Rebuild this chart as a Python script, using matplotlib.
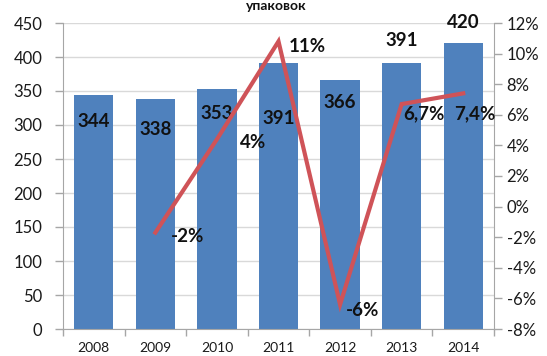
import matplotlib
matplotlib.use("Agg")
import matplotlib.pyplot as plt
from matplotlib.ticker import FuncFormatter, MultipleLocator, FixedLocator
import numpy as np

plt.rcParams['font.family'] = ['Lato', 'Noto Sans', 'DejaVu Sans']

# Data
years = ['2008', '2009', '2010', '2011', '2012', '2013', '2014']
volume = [344, 338, 353, 391, 366, 391, 420]
growth_years = ['2009', '2010', '2011', '2012', '2013', '2014']
growth = [-1.7, 4.4, 10.8, -6.4, 6.7, 7.4]
growth_decimals = [0, 0, 0, 0, 1, 1]

bar_color = '#4F81BD'
line_color = '#CF5358'
spine_color = '#A6A6A6'
grid_color = '#D9D9D9'

fig = plt.figure(figsize=(5.47, 3.56), dpi=100)
ax = fig.add_axes([63 / 547, 1 - 329 / 356, (494 - 63) / 547, (329 - 23) / 356])

x = np.arange(len(years))
ax.bar(x, volume, width=0.64, color=bar_color, zorder=2)
ax.set_xlim(-0.5, len(years) - 0.5)
ax.set_ylim(0, 450)
ax.yaxis.set_major_locator(MultipleLocator(50))
ax.grid(axis='y', color=grid_color, linewidth=1, zorder=0)
ax.set_axisbelow(True)

ax.set_xticks(x)
ax.set_xticklabels(years)
ax.xaxis.set_minor_locator(FixedLocator(np.arange(-0.5, len(years), 1.0)))
ax.tick_params(axis='x', which='major', length=0, pad=9, labelsize=10, colors='#1a1a1a')
ax.tick_params(axis='x', which='minor', length=5, color=spine_color, width=1)
ax.tick_params(axis='y', length=6, color=spine_color, width=1, labelsize=12, pad=9,
               labelcolor='#1a1a1a')
for side in ('top', 'right'):
    ax.spines[side].set_visible(False)
for side in ('left', 'bottom'):
    ax.spines[side].set_color(spine_color)

# Bar value labels (offsets in points from the bar top)
bar_label_offsets = [(0, -19), (0, -22), (0, -18), (0, -40), (0, -16), (0, 16), (0, 15)]
for xi, v, (dx, dy) in zip(x, volume, bar_label_offsets):
    ax.annotate(str(v), (xi, v), xytext=(dx, dy), textcoords='offset points',
                ha='center', va='center', fontsize=13.5, fontweight='bold',
                color='#111111', zorder=5)

# Growth line on secondary axis
ax2 = ax.twinx()
gx = [years.index(y) for y in growth_years]
ax2.plot(gx, growth, color=line_color, linewidth=3, solid_joinstyle='miter', zorder=3)
ax2.set_ylim(-8, 12)
ax2.yaxis.set_major_locator(MultipleLocator(2))
ax2.yaxis.set_major_formatter(FuncFormatter(lambda v, p: f"{v:.0f}%"))
ax2.tick_params(axis='y', length=6, color=spine_color, width=1, labelsize=12, pad=3,
                labelcolor='#1a1a1a')
for side in ('top', 'left', 'bottom'):
    ax2.spines[side].set_visible(False)
ax2.spines['right'].set_color(spine_color)

growth_label_offsets = [(23, -3), (26, -2), (21, -4), (16, -4), (16, -7), (8, -15)]
for xi, v, d, (dx, dy) in zip(gx, growth, growth_decimals, growth_label_offsets):
    txt = f"{v:.{d}f}".replace('.', ',') + '%'
    ax2.annotate(txt, (xi, v), xytext=(dx, dy), textcoords='offset points',
                 ha='center', va='center', fontsize=13.5, fontweight='bold',
                 color='#111111', zorder=5)

fig.text(276 / 547, 1.0, 'упаковок', ha='center', va='top',
         fontsize=10, fontweight='bold', color='#111111')

fig.savefig('out.png', dpi=100)
